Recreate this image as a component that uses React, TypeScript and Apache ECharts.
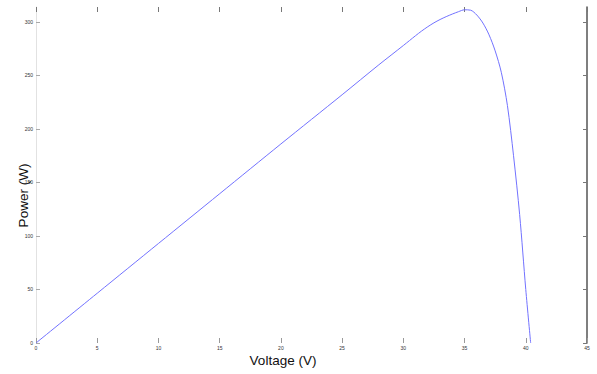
import React, { useEffect, useRef } from "react";
import * as echarts from "echarts";

const voltage = [0, 5, 10, 15, 20, 25, 28, 29, 30, 30.5, 31, 31.5, 32, 32.5, 33, 33.5, 34, 34.5, 35, 35.5, 36, 36.5, 37, 37.5, 38, 38.5, 39, 39.5, 40, 40.4];
const power = [0, 46.5, 93, 139.5, 186, 232, 260, 269, 278, 282.6, 287.2, 291.6, 295.6, 299.2, 302.3, 305, 307.4, 309.6, 311.4, 311, 306.5, 299, 288, 273, 253, 222, 175, 120, 50, 0];
const xTicks = [0, 5, 10, 15, 20, 25, 30, 35, 40, 45];
const yTicks = [0, 50, 100, 150, 200, 250, 300];
const xTitle = "Voltage (V)";
const yTitle = "Power (W)";

export default function App() {
  const ref = useRef<HTMLDivElement>(null);
  useEffect(() => {
    if (!ref.current) return;
    const chart = echarts.init(ref.current, undefined, { renderer: "svg" });
    const data = voltage.map((v, i) => [v, power[i]]);
    const tickLabel = { fontSize: 5, color: "#333", fontFamily: "Liberation Sans" };
    chart.setOption({
      animation: false,
      backgroundColor: "#fff",
      grid: { left: 36, right: 10, top: 7, bottom: 31, containLabel: false },
      xAxis: [
        {
          type: "value", min: 0, max: 45, interval: 5, position: "bottom",
          axisLine: { show: false, onZero: false },
          axisTick: { show: true, inside: true, length: 5, lineStyle: { color: "#999" }, customValues: xTicks },
          axisLabel: { ...tickLabel, margin: 2, customValues: xTicks },
          splitLine: { show: false },
        },
        {
          type: "value", min: 0, max: 45, interval: 5, position: "top",
          axisLine: { show: false, onZero: false },
          axisTick: { show: true, inside: true, length: 5, lineStyle: { color: "#777" }, customValues: xTicks },
          axisLabel: { show: false },
          splitLine: { show: false },
        },
      ],
      yAxis: [
        {
          type: "value", min: 0, max: 314, interval: 50, position: "left",
          axisLine: { show: true, onZero: false, lineStyle: { color: "#e2e2e2", width: 1 } },
          axisTick: { show: true, inside: true, length: 4, lineStyle: { color: "#aaa" }, customValues: yTicks },
          axisLabel: { ...tickLabel, margin: 3, customValues: yTicks },
          splitLine: { show: false },
        },
        {
          type: "value", min: 0, max: 314, interval: 50, position: "right",
          axisLine: { show: true, onZero: false, lineStyle: { color: "#555", width: 1.5 } },
          axisTick: { show: true, inside: true, length: 4, lineStyle: { color: "#777" }, customValues: yTicks },
          axisLabel: { show: false },
          splitLine: { show: false },
        },
      ],
      graphic: [
        {
          type: "text", x: 283, y: 360,
          style: { text: xTitle, fontSize: 13.5, fontFamily: "Liberation Sans", fill: "#111", align: "center", verticalAlign: "middle" },
        },
        {
          type: "text", x: 23, y: 195.5, rotation: Math.PI / 2,
          style: { text: yTitle, fontSize: 13.5, fontFamily: "Liberation Sans", fill: "#111", align: "center", verticalAlign: "middle" },
        },
      ],
      series: [
        {
          type: "line", data, smooth: 0.3, showSymbol: false, xAxisIndex: 0, yAxisIndex: 0,
          lineStyle: { color: "#7272ff", width: 1 },
        },
      ],
    });
    return () => chart.dispose();
  }, []);
  return <div ref={ref} style={{ width: 597, height: 374, position: "absolute", left: 0, top: 0 }} />;
}
